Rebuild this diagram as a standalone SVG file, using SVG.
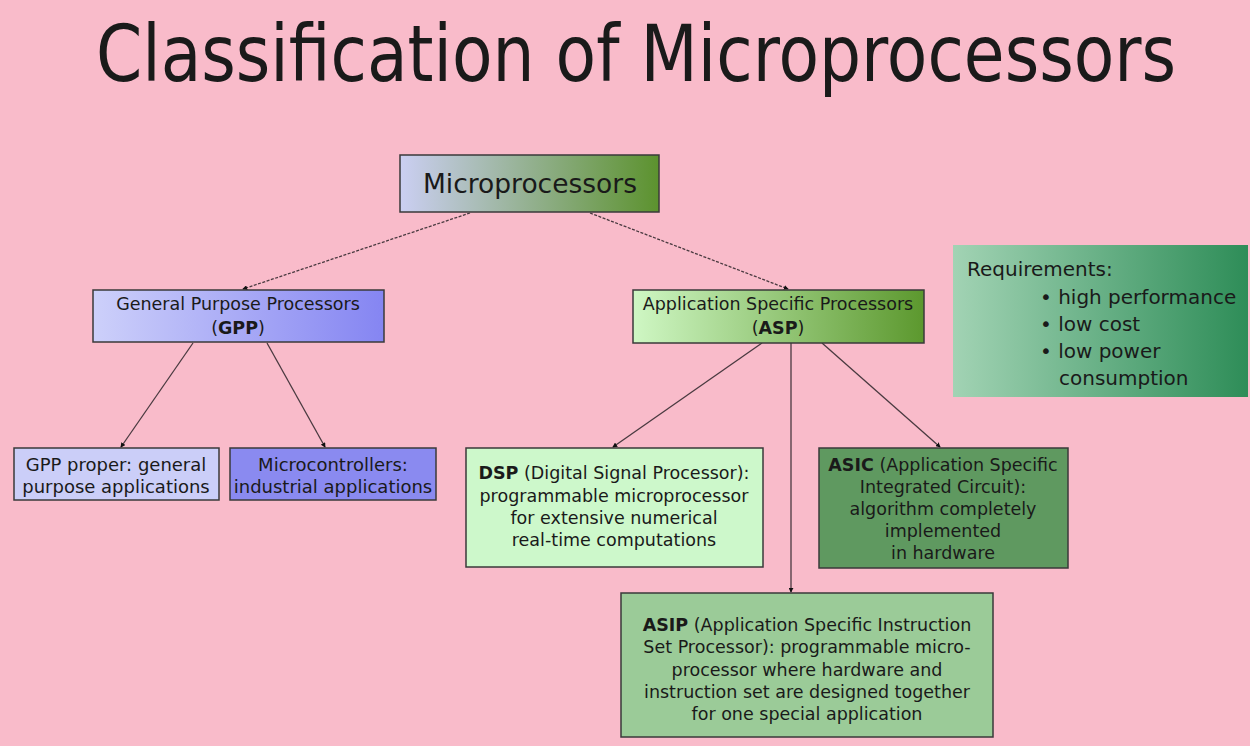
<svg xmlns="http://www.w3.org/2000/svg" width="1250" height="746" viewBox="0 0 1250 746">
<defs>
<linearGradient id="gMicro" x1="0" y1="0" x2="1" y2="0"><stop offset="0" stop-color="#CBCFF2"/><stop offset="1" stop-color="#5C922E"/></linearGradient>
<linearGradient id="gGPP" x1="0" y1="0" x2="1" y2="0"><stop offset="0" stop-color="#CDD0FA"/><stop offset="1" stop-color="#8585F2"/></linearGradient>
<linearGradient id="gASP" x1="0" y1="0" x2="1" y2="0"><stop offset="0" stop-color="#CFF7C4"/><stop offset="1" stop-color="#5C982E"/></linearGradient>
<linearGradient id="gReq" x1="0" y1="0" x2="1" y2="0"><stop offset="0" stop-color="#A2D3B4"/><stop offset="1" stop-color="#2E8D58"/></linearGradient>
<marker id="ah" viewBox="0 0 6 6" refX="5" refY="3" markerWidth="5" markerHeight="5" orient="auto" markerUnits="userSpaceOnUse"><path d="M0,0 L6,3 L0,6 z" fill="#111"/></marker>
<style>
.box{stroke:#3a3a3a;stroke-width:1.5}
.t{font-family:"DejaVu Sans","Liberation Sans",sans-serif;fill:#1a1a1a;text-anchor:middle}
.s16{font-size:18px}
.s15{font-size:17.5px}
.b{font-weight:bold}
.l{text-anchor:start}
.con{stroke:#4a3a40;stroke-width:1.3;fill:none;marker-end:url(#ah)}
.dash{stroke-dasharray:3,1.5}
</style>
</defs>
<rect width="1250" height="746" fill="#F9BBCA"/>
<g transform="translate(636,81) scale(0.85,1)">
<text x="0" y="0" class="t" font-size="78" fill="#000">Classification of Microprocessors</text>
</g>

<g id="connectors">
<line class="con dash" x1="470" y1="213" x2="243" y2="289"/>
<line class="con dash" x1="590" y1="213" x2="788" y2="289"/>
<line class="con" x1="193" y1="343" x2="121" y2="447"/>
<line class="con" x1="267" y1="343" x2="325" y2="447"/>
<line class="con" x1="762" y1="343" x2="613" y2="447"/>
<line class="con" x1="791" y1="343" x2="791" y2="592"/>
<line class="con" x1="822" y1="343" x2="940" y2="447"/>
</g>

<g id="micro">
<rect class="box" x="400" y="155" width="259" height="57" fill="url(#gMicro)"/>
<text class="t" x="530" y="193" font-size="26.5">Microprocessors</text>
</g>

<g id="gpp">
<rect class="box" x="93" y="290" width="291" height="52" fill="url(#gGPP)"/>
<text class="t s15" x="238" y="310">General Purpose Processors</text>
<text class="t s15" x="238" y="334">(<tspan class="b">GPP</tspan>)</text>
</g>

<g id="asp">
<rect class="box" x="633" y="290" width="291" height="53" fill="url(#gASP)"/>
<text class="t s15" x="778" y="310">Application Specific Processors</text>
<text class="t s15" x="778" y="334">(<tspan class="b">ASP</tspan>)</text>
</g>

<g id="gppproper">
<rect class="box" x="14" y="448" width="205" height="52" fill="#CBCEF8"/>
<text class="t s16" x="116" y="471">GPP proper: general</text>
<text class="t s16" x="116" y="493">purpose applications</text>
</g>

<g id="microcontrollers">
<rect class="box" x="230" y="448" width="206" height="52" fill="#8A8AF0"/>
<text class="t s16" x="333" y="471">Microcontrollers:</text>
<text class="t s16" x="333" y="493">industrial applications</text>
</g>

<g id="dsp">
<rect class="box" x="466" y="448" width="297" height="119" fill="#CDF8CB"/>
<text class="t s15" x="614" y="479"><tspan class="b">DSP</tspan> (Digital Signal Processor):</text>
<text class="t s15" x="614" y="502">programmable microprocessor</text>
<text class="t s15" x="614" y="524">for extensive numerical</text>
<text class="t s15" x="614" y="546">real-time computations</text>
</g>

<g id="asic">
<rect class="box" x="819" y="448" width="249" height="120" fill="#5F9960"/>
<text class="t s15" x="943" y="471"><tspan class="b">ASIC</tspan> (Application Specific</text>
<text class="t s15" x="943" y="493">Integrated Circuit):</text>
<text class="t s15" x="943" y="515">algorithm completely</text>
<text class="t s15" x="943" y="537">implemented</text>
<text class="t s15" x="943" y="559">in  hardware</text>
</g>

<g id="asip">
<rect class="box" x="621" y="593" width="372" height="144" fill="#9BCB98"/>
<text class="t s15" x="807" y="631"><tspan class="b">ASIP</tspan> (Application Specific Instruction</text>
<text class="t s15" x="807" y="653">Set Processor): programmable micro-</text>
<text class="t s15" x="807" y="676">processor where hardware and</text>
<text class="t s15" x="807" y="698">instruction set are designed together</text>
<text class="t s15" x="807" y="720">for one special application</text>
</g>

<g id="requirements">
<rect x="953" y="245" width="295" height="152" fill="url(#gReq)"/>
<text class="t l" x="967" y="276" font-size="20">Requirements:</text>
<text class="t l" x="1040" y="304" font-size="20">• high performance</text>
<text class="t l" x="1040" y="331" font-size="20">• low cost</text>
<text class="t l" x="1040" y="358" font-size="20">• low power</text>
<text class="t l" x="1059" y="385" font-size="20">consumption</text>
</g>
</svg>
